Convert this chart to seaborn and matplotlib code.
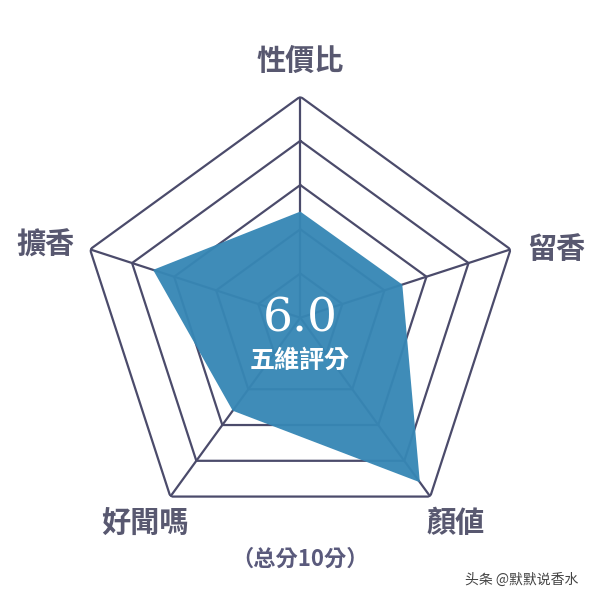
import numpy as np
import pandas as pd
import matplotlib
matplotlib.use("Agg")
import matplotlib.pyplot as plt
import seaborn as sns

sns.set_theme(style="white")
plt.rcParams['font.family'] = ['Noto Sans CJK TC', 'DejaVu Sans']

# data
categories = ['性價比', '留香', '顏値', '好聞嗎', '擴香']
scores = [4.8, 4.85, 9.2, 5.2, 7.0]
grid_levels = [2, 4, 6, 8, 10]
score_text = '6.0'
score_caption = '五維評分'
footnote = '（总分10分）'
watermark = '头条 @默默说香水'

LINE = '#4b4b6b'
LABEL = '#585870'
FILL = '#3787b5'

n = len(categories)
angles = np.linspace(0, 2 * np.pi, n, endpoint=False)
closed = np.append(angles, angles[0])

# pentagon rings + spokes as a long table for seaborn
rows = []
for lv in grid_levels:
    for k, a in enumerate(closed):
        rows.append({'unit': f'ring{lv}', 'order': k, 'theta': a, 'r': lv})
for i, a in enumerate(angles):
    rows.append({'unit': f'spoke{i}', 'order': 0, 'theta': a, 'r': 0})
    rows.append({'unit': f'spoke{i}', 'order': 1, 'theta': a, 'r': grid_levels[-1]})
grid_df = pd.DataFrame(rows)

fig = plt.figure(figsize=(6, 6), dpi=100)
ax = fig.add_axes([0.132, 0.102, 0.737, 0.737], projection='polar')
ax.set_theta_zero_location('N')
ax.set_theta_direction(-1)

sns.lineplot(data=grid_df, x='theta', y='r', units='unit', estimator=None,
             sort=False, color=LINE, linewidth=1.6, ax=ax)

vals = np.append(scores, scores[0])
ax.fill(closed, vals, color=FILL, alpha=0.96, linewidth=0, zorder=3)

ax.set_ylim(0, grid_levels[-1])
ax.grid(False)
ax.spines['polar'].set_visible(False)
ax.set_xticks([])
ax.set_yticks([])
ax.set_xlabel('')
ax.set_ylabel('')
ax.patch.set_alpha(0)

# category labels around the pentagon
label_angles = np.deg2rad([0, 75, 143, 217, 286])
label_r = [11.6, 12.0, 11.65, 11.7, 12.0]
for lab, a, r in zip(categories, label_angles, label_r):
    ax.text(a, r, lab, ha='center', va='center', fontsize=21,
            color=LABEL, fontweight='bold', clip_on=False)

# centre score
fig.text(0.5, 1 - 319 / 600, score_text, ha='center', va='center',
         fontsize=34, color='white', family='DejaVu Serif', zorder=5)
fig.text(0.5, 1 - 361 / 600, score_caption, ha='center', va='center',
         fontsize=18, color='white', fontweight='bold', zorder=5)

fig.text(0.5, 1 - 559 / 600, footnote, ha='center', va='center',
         fontsize=16, color='#5a5a7c', fontweight='bold')
fig.text(0.87, 1 - 580 / 600, watermark, ha='center', va='center',
         fontsize=10, color='#444444')

fig.savefig('out.png', dpi=100, facecolor='white')
